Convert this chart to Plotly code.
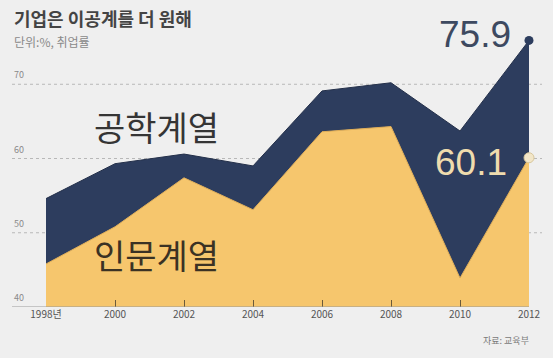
import plotly.graph_objects as go

years = [1998, 2000, 2002, 2004, 2006, 2008, 2010, 2012]
tick_labels = ["1998년", "2000", "2002", "2004", "2006", "2008", "2010", "2012"]
engineering = [54.6, 59.3, 60.6, 59.0, 69.1, 70.2, 63.7, 75.9]
humanities = [45.8, 50.8, 57.4, 53.1, 63.6, 64.3, 43.9, 60.1]
grid_vals = [40, 50, 60, 70]

NAVY = "#2d3d5e"
YELLOW = "#f6c66d"
BG = "#efefef"
FONT = "Noto Sans CJK KR"

W, H = 553, 358
ML, MR, MT, MB = 46, 24, 10, 51
PW = W - ML - MR
PH = H - MT - MB


def px(x):
    return (x - ML) / PW


def py(y):
    return (H - MB - y) / PH


fig = go.Figure()
fig.add_trace(go.Scatter(x=years, y=humanities, mode="lines", fill="tozeroy",
                         fillcolor=YELLOW, line=dict(color="#e0ad55", width=1),
                         hoverinfo="skip", showlegend=False))
fig.add_trace(go.Scatter(x=years, y=engineering, mode="lines", fill="tonexty",
                         fillcolor=NAVY, line=dict(color="#24304a", width=1),
                         hoverinfo="skip", showlegend=False))
fig.add_trace(go.Scatter(x=[years[-1]], y=[engineering[-1]], mode="markers",
                         marker=dict(size=9, color=NAVY), hoverinfo="skip", showlegend=False,
                         cliponaxis=False))
fig.add_trace(go.Scatter(x=[years[-1]], y=[humanities[-1]], mode="markers",
                         marker=dict(size=10, color="#f2e6c8", line=dict(color="#d8c79c", width=1)),
                         hoverinfo="skip", showlegend=False, cliponaxis=False))

# gridlines
for v in grid_vals[1:]:
    fig.add_shape(type="line", xref="paper", yref="y", x0=px(12), x1=px(542), y0=v, y1=v,
                  line=dict(color="#b8b8b8", width=1, dash="dot"), layer="below")
fig.add_shape(type="line", xref="paper", yref="y", x0=px(12), x1=1.0, y0=40, y1=40,
              line=dict(color="#9a9a9a", width=1), layer="above")

# y labels
for v in grid_vals:
    fig.add_annotation(x=px(12), xref="paper", y=v, yref="y", text=str(v), showarrow=False,
                       xanchor="left", yanchor="bottom", yshift=1,
                       font=dict(family=FONT, size=9, color="#8a8a8a"))

# series labels
fig.add_annotation(x=2001.2, y=64.3, text="공학계열", showarrow=False,
                   font=dict(family=FONT, size=34, color="#353535"), xanchor="center", yanchor="middle")
fig.add_annotation(x=2001.2, y=47.1, text="인문계열", showarrow=False,
                   font=dict(family=FONT, size=34, color="#3b3224"), xanchor="center", yanchor="middle")

# value labels
fig.add_annotation(x=years[-1], y=engineering[-1], text="75.9", showarrow=False,
                   xanchor="right", yanchor="middle", xshift=-16, yshift=6,
                   font=dict(family="Liberation Sans", size=37, color="#3d4960"))
fig.add_annotation(x=years[-1], y=humanities[-1], text="60.1", showarrow=False,
                   xanchor="right", yanchor="middle", xshift=-20, yshift=-5,
                   font=dict(family="Liberation Sans", size=37, color="#efdcae"))

# title, subtitle, source
fig.add_annotation(x=px(12), y=py(18), xref="paper", yref="paper", text="<b>기업은 이공계를 더 원해</b>",
                   showarrow=False, xanchor="left", yanchor="middle",
                   font=dict(family=FONT, size=18, color="#444444"))
fig.add_annotation(x=px(12), y=py(42), xref="paper", yref="paper", text="단위:%, 취업률",
                   showarrow=False, xanchor="left", yanchor="middle",
                   font=dict(family=FONT, size=12, color="#8a8a8a"))
fig.add_annotation(x=px(531), y=py(340), xref="paper", yref="paper", text="자료: 교육부",
                   showarrow=False, xanchor="right", yanchor="middle",
                   font=dict(family=FONT, size=9, color="#7a7a7a"))

fig.update_layout(
    width=W, height=H,
    margin=dict(l=ML, r=MR, t=MT, b=MB),
    paper_bgcolor=BG, plot_bgcolor="rgba(0,0,0,0)",
    xaxis=dict(range=[years[0], years[-1]], tickmode="array", tickvals=years, ticktext=tick_labels,
               showgrid=False, zeroline=False, showline=False,
               ticks="inside", ticklen=7, tickcolor="#6b5a3a", tickwidth=1,
               tickfont=dict(family=FONT, size=10, color="#555555")),
    yaxis=dict(range=[40, 80], showgrid=False, zeroline=False, showticklabels=False, showline=False),
    font=dict(family=FONT),
)

fig.write_html("out.html", config={"displayModeBar": False},
               post_script="document.body.style.margin='0';document.body.style.background='%s';" % BG)
